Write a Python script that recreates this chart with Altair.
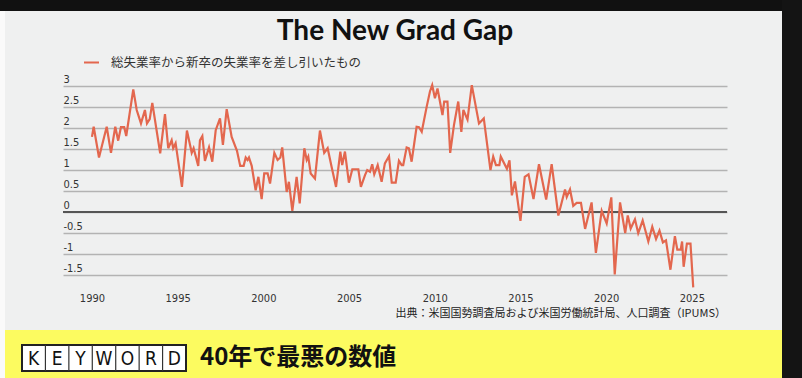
import altair as alt
import pandas as pd

# ---------------- data ----------------
years = [
    1990.00, 1990.10, 1990.41, 1990.86, 1991.11, 1991.36, 1991.53, 1991.69, 1991.88, 1992.00,
    1992.41, 1992.61, 1992.86, 1993.09, 1993.21, 1993.37, 1993.52, 1993.98, 1994.26, 1994.45,
    1994.65, 1994.74, 1994.88, 1995.25, 1995.54, 1995.82, 1995.93, 1996.20, 1996.30, 1996.44,
    1996.59, 1996.83, 1997.02, 1997.22, 1997.47, 1997.64, 1997.86, 1998.15, 1998.46, 1998.65,
    1998.85, 1998.97, 1999.08, 1999.16, 1999.32, 1999.55, 1999.71, 1999.90, 2000.05, 2000.25,
    2000.39, 2000.64, 2000.83, 2000.99, 2001.10, 2001.36, 2001.49, 2001.69, 2001.94, 2002.12,
    2002.39, 2002.53, 2002.62, 2002.76, 2003.01, 2003.30, 2003.55, 2003.75, 2003.98, 2004.24,
    2004.49, 2004.60, 2004.76, 2004.99, 2005.19, 2005.54, 2005.69, 2005.93, 2006.06, 2006.22,
    2006.35, 2006.47, 2006.67, 2006.90, 2007.09, 2007.33, 2007.49, 2007.72, 2007.91, 2008.07,
    2008.16, 2008.36, 2008.49, 2008.65, 2008.94, 2009.08, 2009.24, 2009.53, 2009.72, 2009.85,
    2010.01, 2010.16, 2010.45, 2010.55, 2010.74, 2010.90, 2011.12, 2011.37, 2011.55, 2011.67,
    2011.91, 2012.16, 2012.58, 2012.86, 2013.25, 2013.41, 2013.57, 2013.77, 2013.85, 2014.21,
    2014.36, 2014.50, 2014.68, 2015.00, 2015.25, 2015.47, 2015.76, 2016.08, 2016.50, 2016.82,
    2017.21, 2017.60, 2017.70, 2017.89, 2018.08, 2018.28, 2018.53, 2018.77, 2019.15, 2019.40,
    2019.74, 2020.03, 2020.30, 2020.50, 2020.81, 2021.11, 2021.26, 2021.43, 2021.68, 2021.87,
    2022.13, 2022.46, 2022.69, 2022.91, 2023.11, 2023.31, 2023.49, 2023.75, 2024.01, 2024.15,
    2024.35, 2024.43, 2024.52, 2024.71, 2024.92, 2025.08,
]
gap = [
    1.79, 2.03, 1.30, 2.03, 1.41, 2.03, 1.70, 2.02, 2.02, 1.81,
    2.92, 2.43, 2.11, 2.43, 2.11, 2.21, 2.60, 1.40, 2.33, 1.52,
    1.71, 1.52, 1.64, 0.60, 1.94, 1.41, 1.52, 1.10, 1.71, 1.81,
    1.22, 1.54, 1.20, 1.95, 2.23, 1.60, 2.45, 1.79, 1.46, 1.10,
    1.10, 1.30, 1.24, 1.30, 1.10, 0.52, 0.84, 0.31, 0.92, 0.92,
    0.68, 1.41, 1.24, 1.30, 1.54, 0.48, 0.72, 0.03, 0.84, 0.21,
    1.52, 1.24, 1.32, 0.92, 0.80, 1.94, 1.41, 1.52, 1.08, 0.60,
    1.44, 1.12, 1.44, 0.70, 1.02, 1.02, 0.60, 0.88, 1.00, 0.96,
    1.14, 0.90, 1.12, 0.72, 1.16, 1.33, 0.70, 0.70, 1.22, 1.12,
    1.12, 1.54, 1.52, 1.20, 2.03, 2.02, 1.91, 2.51, 2.87, 3.02,
    2.71, 2.94, 2.31, 2.63, 2.63, 1.41, 2.07, 2.63, 1.91, 2.43,
    2.20, 3.02, 2.11, 2.23, 1.00, 1.32, 1.12, 1.12, 1.32, 1.03,
    1.23, 0.40, 0.73, -0.21, 0.84, 0.90, 0.31, 1.14, 0.30, 1.14,
    -0.08, 0.54, 0.36, 0.54, 0.15, 0.22, 0.22, -0.40, 0.23, -0.97,
    0.03, -0.27, 0.35, -1.48, 0.23, -0.50, -0.08, -0.39, -0.17, -0.50,
    -0.20, -0.70, -0.35, -0.64, -0.44, -0.72, -0.67, -1.37, -0.57, -0.89,
    -0.89, -0.70, -1.30, -0.75, -0.75, -1.79,
]
series_name = "総失業率から新卒の失業率を差し引いたもの"
x_ticks = [1990, 1995, 2000, 2005, 2010, 2015, 2020, 2025]
y_ticks = [3, 2.5, 2, 1.5, 1, 0.5, 0, -0.5, -1, -1.5]
title_text = "The New Grad Gap"
source_text = "出典：米国国勢調査局および米国労働統計局、人口調査（IPUMS）"
keyword_letters = ["K", "E", "Y", "W", "O", "R", "D"]
keyword_text = "40年で最悪の数値"

# ---------------- layout / style ----------------
W, H = 664, 206           # plot area
PL, PT = 63, 86           # plot origin in the page
PAGE_W, PAGE_H = 802, 378
LINE_COLOR = "#e3674e"
PANEL = "#eff0f0"
YELLOW = "#fcfb60"
NARROW = "Liberation Sans Narrow, Arial Narrow, DejaVu Sans Condensed, sans-serif"
CJK = "Noto Sans CJK JP"

def px(x):  # page x -> plot-relative x
    return x - PL

def py(y):  # page y -> plot-relative y
    return y - PT

one = pd.DataFrame({"k": [0]})

df = pd.DataFrame({"year": years, "gap": gap, "series": [series_name] * len(years)})

x_scale = alt.Scale(domain=[1988.31, 2027.05], nice=False, zero=False)
y_scale = alt.Scale(domain=[-1.9, 3.0], nice=False, zero=False)

x_axis = alt.Axis(values=x_ticks, format="d", grid=False, ticks=False, domain=False,
                  labelPadding=0, labelFont=NARROW, labelFontSize=11, labelColor="#333333",
                  labelFlush=False, labelOverlap=False, title=None)
y_axis = alt.Axis(values=y_ticks, labelExpr="'' + datum.value", grid=True,
                  gridColor="#b3b3b3", gridWidth=1.6, ticks=False, domain=False,
                  labelAlign="left", labelBaseline="alphabetic", labelPadding=0,
                  labelOffset=-4, labelFlush=False, labelOverlap=False,
                  labelFont=NARROW, labelFontSize=11, labelColor="#333333", title=None)


def rect(x1, x2, y1, y2, color, **kw):
    return alt.Chart(one).mark_rect(color=color, **kw).encode(
        x=alt.value(px(x1)), x2=alt.value(px(x2)), y=alt.value(py(y1)), y2=alt.value(py(y2)))


def label(x, y, text, **kw):
    return alt.Chart(one).mark_text(**kw).encode(
        x=alt.value(px(x)), y=alt.value(py(y)), text=alt.value(text))


layers = []
# frame decorations
layers.append(rect(0, PAGE_W, 0, 11, "#111111"))
layers.append(rect(782, PAGE_W, 0, PAGE_H, "#141414"))
layers.append(rect(0, 5, 11, PAGE_H, "#fafafa"))
layers.append(rect(5, 782, 330, PAGE_H, YELLOW))

# zero line
zero = alt.Chart(pd.DataFrame({"gap": [0.0]})).mark_rule(color="#555555", strokeWidth=2).encode(
    y=alt.Y("gap:Q", scale=y_scale, axis=y_axis))
layers.append(zero)

# data line
line = alt.Chart(df).mark_line(strokeWidth=2.2, clip=False).encode(
    x=alt.X("year:Q", scale=x_scale, axis=x_axis),
    y=alt.Y("gap:Q", scale=y_scale, axis=y_axis),
    color=alt.Color("series:N", scale=alt.Scale(range=[LINE_COLOR]),
                    legend=alt.Legend(title=None, orient="none", legendX=20, legendY=-32,
                                      symbolType="stroke", symbolSize=225, symbolStrokeWidth=2,
                                      labelFont=CJK, labelFontSize=12.5, labelColor="#333333",
                                      labelOffset=11, labelLimit=0)),
)
layers.append(line)

# texts
layers.append(label(395, 32, title_text, font="Lato", fontSize=28, fontWeight="bold",
                    color="#111111", align="center", baseline="middle"))
layers.append(label(726, 314, source_text, font=CJK, fontSize=11, color="#222222",
                    align="right", baseline="middle"))

# KEYWORD box
kx0, kx1, ky0, ky1 = 22, 186, 345, 371
cell = (kx1 - kx0) / len(keyword_letters)
layers.append(alt.Chart(one).mark_rect(fill="white", stroke="#222222", strokeWidth=2).encode(
    x=alt.value(px(kx0)), x2=alt.value(px(kx1)), y=alt.value(py(ky0)), y2=alt.value(py(ky1))))
for i, ch in enumerate(keyword_letters):
    if i > 0:
        xs = kx0 + i * cell
        layers.append(alt.Chart(one).mark_rule(color="#333333", strokeWidth=1.2).encode(
            x=alt.value(px(xs)), y=alt.value(py(ky0)), y2=alt.value(py(ky1))))
    layers.append(label(kx0 + (i + 0.5) * cell, (ky0 + ky1) / 2 + 1, ch, font=NARROW,
                        fontSize=19, color="#111111", align="center", baseline="middle"))
layers.append(label(200, 358, keyword_text, font=CJK, fontSize=24, fontWeight="bold",
                    color="#111111", align="left", baseline="middle"))

chart = alt.layer(*layers).properties(
    width=W, height=H,
    autosize=alt.AutoSizeParams(type="none"),
    padding={"left": PL, "top": PT, "right": PAGE_W - PL - W, "bottom": PAGE_H - PT - H},
    background=PANEL,
).configure_view(strokeWidth=0)

chart.save("out.html", embed_options={"renderer": "svg", "actions": False})
